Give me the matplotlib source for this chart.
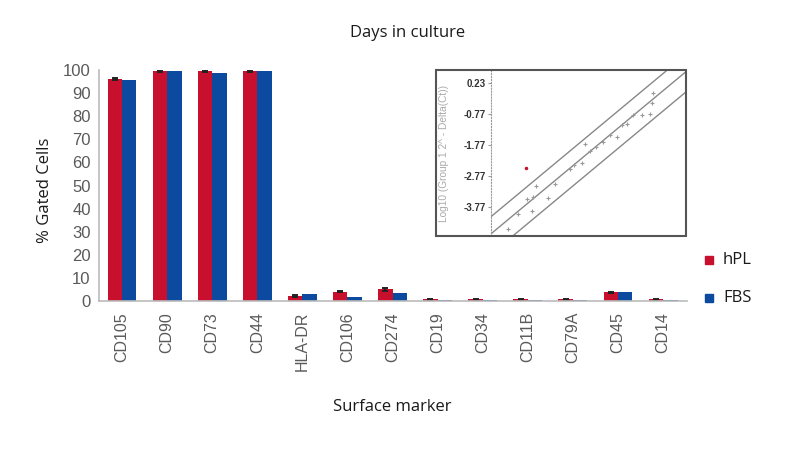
import numpy as np
import matplotlib
matplotlib.use("Agg")
import matplotlib.pyplot as plt
from matplotlib.patches import Rectangle

# surface marker data (% gated cells)
markers = ['CD105', 'CD90', 'CD73', 'CD44', 'HLA-DR', 'CD106', 'CD274',
           'CD19', 'CD34', 'CD11B', 'CD79A', 'CD45', 'CD14']
hpl = [96.0, 99.5, 99.5, 99.5, 2.0, 4.0, 5.0, 0.8, 0.7, 0.8, 0.7, 3.8, 0.7]
fbs = [95.5, 99.5, 98.8, 99.5, 3.0, 1.8, 3.5, 0.5, 0.5, 0.5, 0.5, 4.0, 0.4]
hpl_err = [0.5, 0.4, 0.4, 0.3, 0.4, 0.3, 0.6, 0.2, 0.2, 0.2, 0.2, 0.3, 0.2]
yticks = list(range(0, 101, 10))

# inset scatter (log10 2^-dCt, group 1 vs group 2)
inset_x = [-4.16, -3.89, -3.67, -3.49, -3.42, -3.09, -3.53, -2.91, -2.51, -2.41,
           -2.20, -1.98, -1.83, -1.63, -1.45, -1.27, -1.13, -1.00, -0.83, -0.60,
           -0.38, -0.33, -0.29, -2.11]
inset_y = [-4.45, -3.98, -3.49, -3.44, -3.08, -3.47, -3.90, -3.03, -2.55, -2.42,
           -2.35, -1.98, -1.84, -1.67, -1.45, -1.50, -1.14, -1.09, -0.82, -0.82,
           -0.78, -0.43, -0.12, -1.75]
outlier_x = [-3.69]
outlier_y = [-2.52]
fold_bounds = [0.55, 0.0, -0.65]
inset_ticks = [0.23, -0.77, -1.77, -2.77, -3.77]

RED = '#C8102E'
BLUE = '#0B4A9E'
W, H = 800, 449

def fx(px):
    return px / W

def fy(py):
    return 1 - py / H

fig = plt.figure(figsize=(8, 4.49), dpi=100)
fig.patch.set_facecolor('white')

# main bar chart
ax = fig.add_axes([fx(99), fy(301), fx(687) - fx(99), fy(70) - fy(301)])
x = np.arange(len(markers))
bw = 0.32
ax.bar(x - bw / 2, hpl, bw, color=RED, yerr=hpl_err, capsize=2.5,
       error_kw=dict(ecolor='#222222', elinewidth=1.3, capthick=1.4), zorder=2)
ax.bar(x + bw / 2, fbs, bw, color=BLUE, zorder=2)
ax.set_xlim(-0.51, 12.53)
ax.set_ylim(0, 100)
ax.set_yticks(yticks)
ax.set_xticks(x)
ax.set_xticklabels(markers, rotation=90, family='Liberation Sans',
                   fontsize=11.5, color='#5a5a5a')
for lab in ax.get_yticklabels():
    lab.set_family('Liberation Sans')
    lab.set_fontsize(12)
    lab.set_color('#5a5a5a')
ax.tick_params(axis='both', length=0)
ax.tick_params(axis='x', pad=8)
ax.tick_params(axis='y', pad=6)
for s in ['top', 'right']:
    ax.spines[s].set_visible(False)
for s in ['left', 'bottom']:
    ax.spines[s].set_color('#BBBBBB')
    ax.spines[s].set_linewidth(1.2)

fig.text(fx(408), fy(33), 'Days in culture', ha='center', va='center',
         family='Open Sans', fontsize=12, color='#1a1a1a')
fig.text(fx(392), fy(407), 'Surface marker', ha='center', va='center',
         family='Open Sans', fontsize=12, color='#1a1a1a')
fig.text(fx(45), fy(190), '% Gated Cells', ha='center', va='center',
         rotation=90, family='Open Sans', fontsize=12, color='#1a1a1a')

# legend
for label, col, py in [('hPL', RED, 260), ('FBS', BLUE, 298)]:
    fig.patches.append(Rectangle((fx(705), fy(py + 4)), fx(8), 8 / H,
                                 transform=fig.transFigure, color=col))
    fig.text(fx(723), fy(py), label, ha='left', va='center',
             family='Open Sans', fontsize=12, color='#1a1a1a')

# inset qPCR scatter
fig.patches.append(Rectangle((fx(436), fy(236)), fx(686) - fx(436),
                             fy(70) - fy(236), transform=fig.transFigure,
                             fill=False, edgecolor='#555555', linewidth=1.5,
                             zorder=5))
ins = fig.add_axes([fx(491), fy(236), fx(686) - fx(491), fy(71) - fy(236)])
ins.set_xlim(-4.62, 0.58)
ins.set_ylim(-4.69, 0.60)
for c in fold_bounds:
    ins.axline((0, c), slope=1, color='#888888', linewidth=1.0)
ins.plot(inset_x, inset_y, '+', color='#999999', markersize=3.5, mew=0.8)
ins.plot(outlier_x, outlier_y, '.', color=RED, markersize=3)
ins.set_xticks([])
ins.set_yticks(inset_ticks)
ins.set_yticklabels(['%.2f' % t for t in inset_ticks], fontsize=7,
                    color='#333333', fontweight='bold', family='Liberation Sans')
ins.tick_params(axis='y', length=2, color='#999999', pad=2)
for s in ['top', 'right', 'bottom']:
    ins.spines[s].set_visible(False)
ins.spines['left'].set_linestyle(':')
ins.spines['left'].set_color('#999999')
fig.text(fx(444), fy(153), 'Log10 (Group 1 2^ - Delta(Ct))', rotation=90,
         ha='center', va='center', fontsize=7.3, color='#AAAAAA',
         family='Liberation Sans')

fig.savefig('out.png', dpi=100)
